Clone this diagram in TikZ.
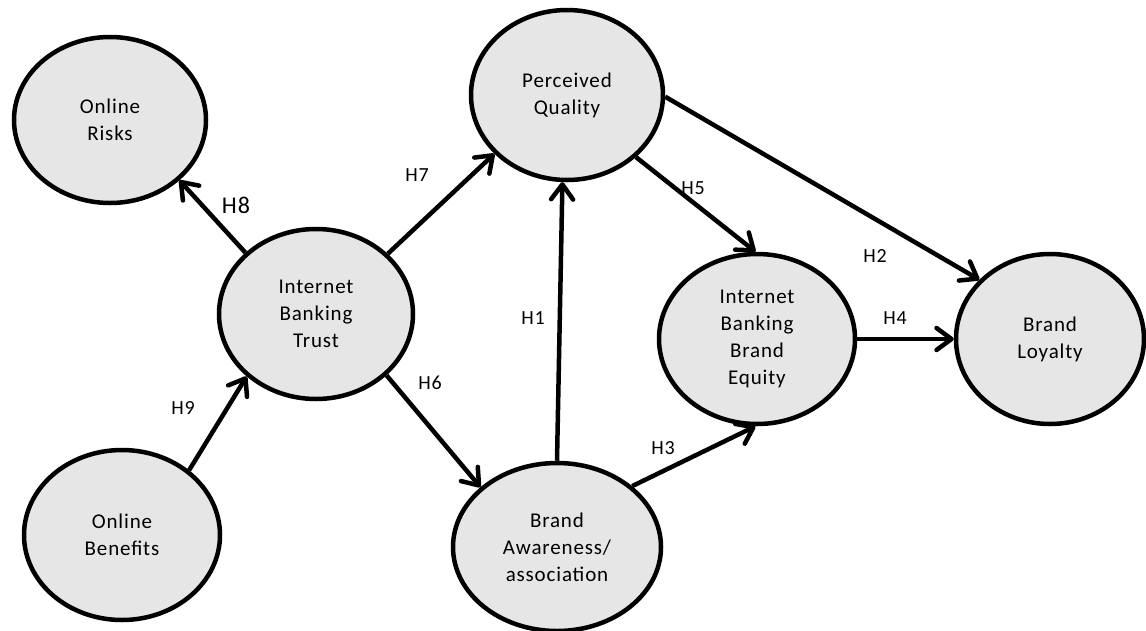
\documentclass[tikz,border=0pt]{standalone}
\usepackage{fontspec}
\setmainfont{Carlito}
\newfontfamily\spacedfont[LetterSpace=4]{Carlito}
\usetikzlibrary{shapes.geometric,arrows.meta}
\begin{document}
\begin{tikzpicture}[x=1pt,y=-1pt,
  construct/.style={ellipse, draw=black, line width=4.5pt, fill={rgb,255:red,230;green,230;blue,230},
    inner sep=0pt, align=center, font=\spacedfont\fontsize{21}{27}\selectfont},
  arr/.style={line width=4.5pt, -{Straight Barb[length=15pt,width=22pt,line cap=round,line join=round]}},
  hyp/.style={font=\spacedfont\fontsize{20}{24}\selectfont, inner sep=0pt},
  hypbig/.style={font=\spacedfont\fontsize{24}{28}\selectfont, inner sep=0pt}]
\useasboundingbox (0,0) rectangle (1146,630);
\node[construct, minimum width=192pt, minimum height=166pt] (risks) at (110,120) {Online\\Risks};
\node[construct, minimum width=194pt, minimum height=170pt] (trust) at (316,314) {Internet\\Banking\\Trust};
\node[construct, minimum width=192pt, minimum height=170pt] (pq) at (567,95) {Perceived\\Quality};
\node[construct, minimum width=196pt, minimum height=170pt] (equity) at (757,339) {Internet\\Banking\\Brand\\Equity};
\node[construct, minimum width=188pt, minimum height=170pt] (loyalty) at (1050,339) {Brand\\Loyalty};
\node[construct, minimum width=196pt, minimum height=170pt] (benefits) at (122,535) {Online\\Benefits};
\node[construct, minimum width=208pt, minimum height=168pt] (aware) at (557,547) {Brand\\Awareness/\\association};

\draw[arr] (trust.139) -- (risks.-41.5);
\draw[arr] (trust.40.7) -- (pq.219);
\draw[arr] (benefits.44) -- (trust.222);
\draw[arr] (trust.-41.5) -- (aware.142);
\draw[arr] (aware.90) -- (pq.267);
\draw[arr] (pq.-42) -- (equity.91);
\draw[arr] (pq.-1) -- (loyalty.140);
\draw[arr] (equity.0) -- (loyalty.180);
\draw[arr] (aware.39) -- (equity.-91);

\node[hypbig] (h8) at (236,205) {H8};
\node[hyp] (h7) at (417,175) {H7};
\node[hyp] (h9) at (183,408) {H9};
\node[hyp] (h6) at (430,383) {H6};
\node[hyp] (h1) at (533,318) {H1};
\node[hyp] (h5) at (693,188) {H5};
\node[hyp] (h2) at (875,256) {H2};
\node[hyp] (h4) at (895,318) {H4};
\node[hyp] (h3) at (663,448) {H3};
\end{tikzpicture}
\end{document}
